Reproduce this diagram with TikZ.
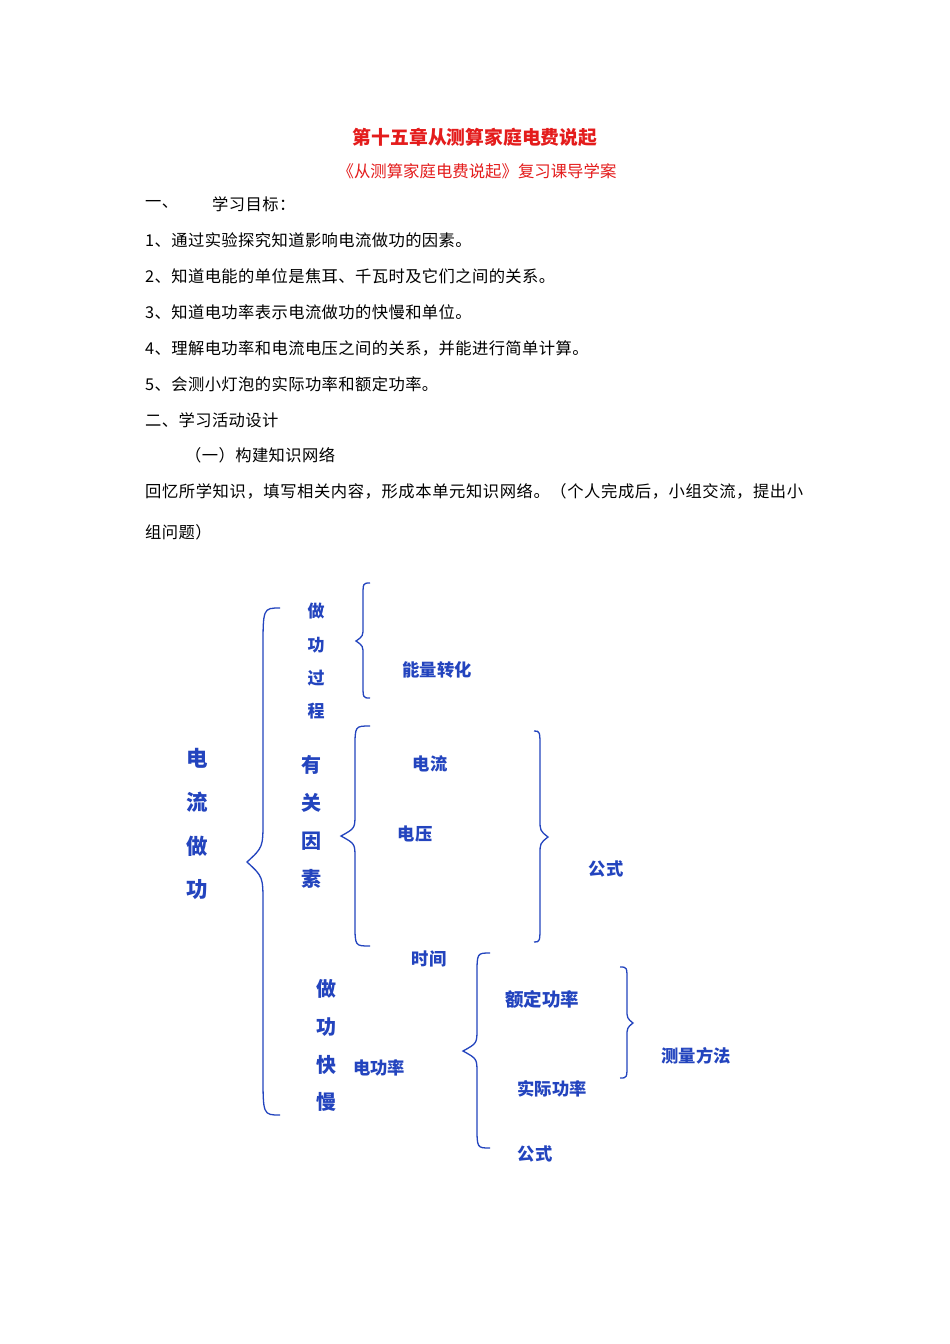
\documentclass[tikz,border=0pt]{standalone}
\usepackage{fontspec}
\setmainfont{Noto Sans CJK SC}
\definecolor{dblue}{RGB}{35,68,190}
\definecolor{tred}{RGB}{228,28,28}
\newcommand\bracepath[7]{%
 \draw[br] (#1,#4) .. controls (#2,#4) .. (#2,{#4+#7}) -- (#2,{#5-#7})
   .. controls (#2,{#5-0.35*#7}) .. (#3,#5)
   .. controls (#2,{#5+0.35*#7}) .. (#2,{#5+#7}) -- (#2,{#6-#7})
   .. controls (#2,#6) .. (#1,#6);}
\begin{document}
\begin{tikzpicture}[x=1pt,y=-1pt,
  br/.style={draw=dblue,line width=1.3pt},
  body/.style={anchor=west,inner sep=0pt,font=\fontsize{16.3}{17}\selectfont\addfontfeatures{LetterSpace=2.5}},
  dt/.style={inner sep=0pt,text=dblue,font=\fontsize{17.3}{18}\selectfont\bfseries},
  big/.style={inner sep=0pt,text=dblue,font=\fontsize{21.5}{22}\selectfont\bfseries},
  midr/.style={inner sep=0pt,text=dblue,font=\fontsize{20}{21}\selectfont\bfseries},
  mid/.style={inner sep=0pt,text=dblue,font=\fontsize{17}{18}\selectfont\bfseries}]
\useasboundingbox (0,0) rectangle (950,1344);
\fill[white] (0,0) rectangle (950,1344);
% header
\node[inner sep=0pt,text=tred,font=\fontsize{18.8}{19}\selectfont\bfseries] (title) at (475,137) {第十五章从测算家庭电费说起};
\node[inner sep=0pt,text=tred,font=\fontsize{16.4}{17}\selectfont] (sub) at (477,171) {《从测算家庭电费说起》复习课导学案};
\node[body] (l0a) at (145,204) {一、};
\node[body] (l0b) at (212,204) {学习目标：};
\node[body] (l1) at (145,240) {1、通过实验探究知道影响电流做功的因素。};
\node[body] (l2) at (145,276) {2、知道电能的单位是焦耳、千瓦时及它们之间的关系。};
\node[body] (l3) at (145,312) {3、知道电功率表示电流做功的快慢和单位。};
\node[body] (l4) at (145,348) {4、理解电功率和电流电压之间的关系，并能进行简单计算。};
\node[body] (l5) at (145,384) {5、会测小灯泡的实际功率和额定功率。};
\node[body] (l6) at (145,420) {二、学习活动设计};
\node[body] (l7) at (185,455) {（一）构建知识网络};
\node[body,font=\fontsize{16.3}{17}\selectfont\addfontfeatures{LetterSpace=3.6}] (l8) at (145,491) {回忆所学知识，填写相关内容，形成本单元知识网络。（个人完成后，小组交流，提出小};
\node[body] (l9) at (145,532) {组问题）};
% diagram: vertical labels
\node[big] (a1) at (197,758) {电};
\node[big] (a2) at (197,802) {流};
\node[big] (a3) at (197,846) {做};
\node[big] (a4) at (197,890) {功};
\node[mid] (b1) at (316,611) {做};
\node[mid] (b2) at (316,645) {功};
\node[mid] (b3) at (316,678) {过};
\node[mid] (b4) at (316,711) {程};
\node[midr] (c1) at (311,765) {有};
\node[midr] (c2) at (311,803) {关};
\node[midr] (c3) at (311,841) {因};
\node[midr] (c4) at (311,879) {素};
\node[midr] (d1) at (326,989) {做};
\node[midr] (d2) at (326,1027) {功};
\node[midr] (d3) at (326,1065) {快};
\node[midr] (d4) at (326,1102) {慢};
% diagram: items
\node[dt] (nl) at (437,670) {能量转化};
\node[dt] (dl) at (430,764) {电流};
\node[dt] (dy) at (415,834) {电压};
\node[dt] (gs1) at (606,869) {公式};
\node[dt] (sj) at (429,959) {时间};
\node[dt] (dgl) at (379,1068) {电功率};
\node[dt,font=\fontsize{18.5}{19}\selectfont\bfseries] (edgl) at (542,999) {额定功率};
\node[dt] (sjgl) at (552,1089) {实际功率};
\node[dt] (gs2) at (535,1154) {公式};
\node[dt] (clff) at (696,1056) {测量方法};
% braces
\bracepath{280}{263}{247}{608}{862}{1115}{42}
\bracepath{370}{363}{356}{583}{641}{698}{14}
\bracepath{370}{355}{341}{726}{836}{946}{22}
\bracepath{534}{540}{548}{731}{837}{942}{18}
\bracepath{490}{477}{463}{953}{1051}{1148}{22}
\bracepath{620}{627}{633}{967}{1023}{1078}{14}
\end{tikzpicture}
\end{document}
